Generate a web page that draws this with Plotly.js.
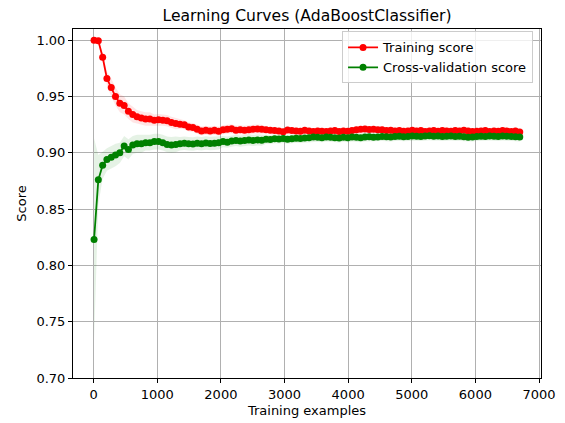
<!DOCTYPE html>
<html>
<head>
<meta charset="utf-8">
<script src="https://cdn.plot.ly/plotly-3.0.1.min.js"></script>
<style>html,body{margin:0;padding:0;background:#fff;}#chart{width:565px;height:423px;}</style>
</head>
<body>
<div id="chart"></div>
<script>
const trainSizes = [7, 74, 142, 209, 277, 344, 412, 480, 547, 615, 682, 750, 817, 885, 953, 1020, 1088, 1155, 1223, 1291,
  1358, 1426, 1493, 1561, 1628, 1696, 1764, 1831, 1899, 1966, 2034, 2101, 2169, 2237, 2304, 2372, 2439, 2507, 2575, 2642,
  2710, 2777, 2845, 2912, 2980, 3048, 3115, 3183, 3250, 3318, 3386, 3453, 3521, 3588, 3656, 3723, 3791, 3859, 3926, 3994,
  4061, 4129, 4197, 4264, 4332, 4399, 4467, 4534, 4602, 4670, 4737, 4805, 4872, 4940, 5008, 5075, 5143, 5210, 5278, 5345,
  5413, 5481, 5548, 5616, 5683, 5751, 5819, 5886, 5954, 6021, 6089, 6156, 6224, 6292, 6359, 6427, 6494, 6562, 6630, 6697];

const trainMean = [1.000, 0.9995, 0.985, 0.966, 0.958, 0.950, 0.944, 0.942, 0.937, 0.934,
  0.932, 0.931, 0.930, 0.930, 0.929, 0.9295, 0.929, 0.9285, 0.927, 0.926,
  0.9255, 0.925, 0.923, 0.9225, 0.921, 0.9195, 0.9200, 0.9195, 0.9200, 0.9192,
  0.9205, 0.921, 0.9215, 0.920, 0.9205, 0.920, 0.9205, 0.921, 0.9212, 0.921,
  0.9205, 0.920, 0.9198, 0.9195, 0.9188, 0.9202, 0.9198, 0.9195, 0.9192, 0.920,
  0.9195, 0.919, 0.9195, 0.9192, 0.919, 0.9195, 0.9198, 0.919, 0.9195, 0.9192,
  0.9198, 0.9205, 0.921, 0.9212, 0.9208, 0.921, 0.9205, 0.9205, 0.9198, 0.920,
  0.9195, 0.9198, 0.9192, 0.9195, 0.920, 0.9195, 0.9198, 0.919, 0.9195, 0.9198,
  0.9192, 0.9198, 0.9195, 0.9192, 0.9198, 0.9195, 0.920, 0.9195, 0.919, 0.9192,
  0.9195, 0.9198, 0.919, 0.9195, 0.9192, 0.9198, 0.9195, 0.919, 0.9195, 0.9185];

const trainStd = [0.000, 0.001, 0.004, 0.006, 0.008, 0.008, 0.008, 0.008, 0.007, 0.007,
  0.006, 0.006, 0.006, 0.006, 0.005, 0.005, 0.005, 0.005, 0.005, 0.005,
  0.004, 0.004, 0.004, 0.004, 0.004, 0.004, 0.004, 0.004, 0.004, 0.004,
  0.004, 0.004, 0.004, 0.004, 0.004, 0.004, 0.004, 0.004, 0.004, 0.004,
  0.003, 0.003, 0.003, 0.003, 0.003, 0.003, 0.003, 0.003, 0.003, 0.003,
  0.003, 0.003, 0.003, 0.003, 0.003, 0.003, 0.003, 0.003, 0.003, 0.003,
  0.003, 0.003, 0.003, 0.003, 0.003, 0.003, 0.003, 0.003, 0.003, 0.003,
  0.003, 0.003, 0.003, 0.003, 0.003, 0.003, 0.003, 0.003, 0.003, 0.003,
  0.003, 0.003, 0.003, 0.003, 0.003, 0.003, 0.003, 0.003, 0.003, 0.003,
  0.003, 0.003, 0.003, 0.003, 0.003, 0.003, 0.003, 0.003, 0.003, 0.003];

const cvMean = [0.823, 0.876, 0.889, 0.894, 0.896, 0.898, 0.900, 0.906, 0.903, 0.907,
  0.908, 0.908, 0.909, 0.909, 0.910, 0.910, 0.909, 0.9075, 0.907, 0.9075,
  0.908, 0.9085, 0.908, 0.9078, 0.9085, 0.908, 0.9088, 0.9082, 0.9085, 0.909,
  0.910, 0.9095, 0.9105, 0.911, 0.9105, 0.911, 0.9115, 0.911, 0.9115, 0.9112,
  0.912, 0.9118, 0.9125, 0.9122, 0.9128, 0.912, 0.9125, 0.913, 0.9128, 0.9132,
  0.9135, 0.914, 0.9138, 0.9135, 0.914, 0.9138, 0.9135, 0.9132, 0.9138, 0.9135,
  0.914, 0.9138, 0.9135, 0.914, 0.9142, 0.9138, 0.914, 0.9145, 0.9142, 0.914,
  0.9145, 0.9148, 0.9142, 0.9145, 0.915, 0.9148, 0.9145, 0.915, 0.9152, 0.9148,
  0.915, 0.9145, 0.9148, 0.915, 0.9145, 0.9148, 0.9142, 0.9138, 0.914, 0.9145,
  0.9148, 0.9145, 0.915, 0.9148, 0.9145, 0.915, 0.9148, 0.9145, 0.9142, 0.914];

const cvStd = [0.090, 0.022, 0.012, 0.010, 0.010, 0.010, 0.009, 0.009, 0.009, 0.008,
  0.008, 0.008, 0.007, 0.007, 0.007, 0.007, 0.007, 0.007, 0.007, 0.007,
  0.006, 0.006, 0.006, 0.006, 0.006, 0.006, 0.006, 0.006, 0.006, 0.006,
  0.005, 0.005, 0.005, 0.005, 0.005, 0.005, 0.005, 0.005, 0.005, 0.005,
  0.004, 0.004, 0.004, 0.004, 0.004, 0.004, 0.004, 0.004, 0.004, 0.004,
  0.004, 0.004, 0.004, 0.004, 0.004, 0.004, 0.004, 0.004, 0.004, 0.004,
  0.004, 0.004, 0.004, 0.004, 0.004, 0.004, 0.004, 0.004, 0.004, 0.004,
  0.004, 0.004, 0.004, 0.004, 0.004, 0.004, 0.004, 0.004, 0.004, 0.004,
  0.004, 0.004, 0.004, 0.004, 0.004, 0.004, 0.004, 0.004, 0.004, 0.004,
  0.004, 0.004, 0.004, 0.004, 0.004, 0.004, 0.004, 0.004, 0.004, 0.004];

const seriesNames = ['Training score', 'Cross-validation score'];
const titleText = 'Learning Curves (AdaBoostClassifier)';
const xTitle = 'Training examples';
const yTitle = 'Score';

function band(mean, std, fillColor) {
  const lo = mean.map((m, i) => m - std[i]);
  const hi = mean.map((m, i) => m + std[i]);
  return [
    {x: trainSizes, y: lo, mode: 'lines', line: {width: 0, color: fillColor}, showlegend: false, hoverinfo: 'skip'},
    {x: trainSizes, y: hi, mode: 'lines', line: {width: 0, color: fillColor}, fill: 'tonexty', fillcolor: fillColor, showlegend: false, hoverinfo: 'skip'}
  ];
}

const traces = [
  ...band(trainMean, trainStd, 'rgba(255,0,0,0.1)'),
  ...band(cvMean, cvStd, 'rgba(0,128,0,0.1)'),
  {x: trainSizes, y: trainMean, mode: 'lines+markers', name: seriesNames[0],
   line: {color: '#ff0000', width: 1.8}, marker: {color: '#ff0000', size: 7}},
  {x: trainSizes, y: cvMean, mode: 'lines+markers', name: seriesNames[1],
   line: {color: '#008000', width: 1.8}, marker: {color: '#008000', size: 7}}
];

const fontFam = 'DejaVu Sans, sans-serif';
const layout = {
  width: 565, height: 423,
  margin: {l: 73, r: 24, t: 29, b: 45, pad: 0},
  paper_bgcolor: '#ffffff', plot_bgcolor: '#ffffff',
  font: {family: fontFam, size: 13, color: '#000000'},
  title: {text: titleText, font: {family: fontFam, size: 15.6, color: '#000'},
          x: 0.5, xref: 'paper', y: 1 - 16/423, yref: 'container', yanchor: 'middle'},
  xaxis: {
    range: [-324, 7031], tickmode: 'linear', tick0: 0, dtick: 1000,
    showgrid: true, gridcolor: '#b0b0b0', gridwidth: 1, zeroline: false,
    showline: true, linecolor: '#000', linewidth: 1, mirror: true,
    ticks: 'outside', ticklen: 4, tickwidth: 1, tickcolor: '#000',
    tickfont: {size: 13, color: '#000'},
    title: {text: xTitle, font: {size: 13, color: '#000'}, standoff: 5}
  },
  yaxis: {
    range: [0.70, 1.01], tickmode: 'linear', tick0: 0.70, dtick: 0.05, tickformat: '.2f',
    showgrid: true, gridcolor: '#b0b0b0', gridwidth: 1, zeroline: false,
    showline: true, linecolor: '#000', linewidth: 1, mirror: true,
    ticks: 'outside', ticklen: 4, tickwidth: 1, tickcolor: '#000',
    tickfont: {size: 13, color: '#000'},
    title: {text: yTitle, font: {size: 13, color: '#000'}, standoff: 6}
  },
  showlegend: true,
  legend: {x: 0.983, y: 0.993, xanchor: 'right', yanchor: 'top', traceorder: 'normal',
           bgcolor: 'rgba(255,255,255,0.8)', bordercolor: '#cccccc', borderwidth: 1,
           font: {size: 13, color: '#000'}, tracegroupgap: 0}
};

Plotly.newPlot('chart', traces, layout, {staticPlot: true, displayModeBar: false});
</script>
</body>
</html>
